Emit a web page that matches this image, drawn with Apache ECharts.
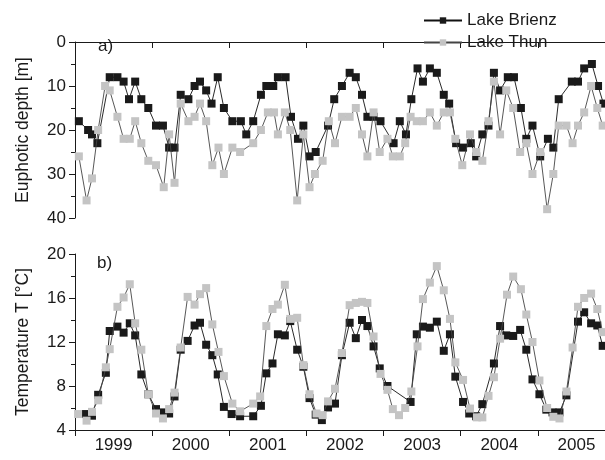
<!DOCTYPE html>
<html>
<head>
<meta charset="utf-8">
<script src="https://cdn.jsdelivr.net/npm/echarts@6/dist/echarts.min.js"></script>
<style>
  html, body { margin: 0; background: #fff; }
  #main { width: 605px; height: 460px; }
</style>
</head>
<body>
<div id="main"></div>
<script>
var years = [1999, 2000, 2001, 2002, 2003, 2004, 2005]
var depthTicks = [0, 10, 20, 30, 40]
var tempTicks = [4, 8, 12, 16, 20]

// a) euphotic depth [m]
var depthBrienzT = [1999.05, 1999.17, 1999.22, 1999.29, 1999.45, 1999.55, 1999.63, 1999.70, 1999.78, 1999.86, 1999.95,
  2000.05, 2000.14, 2000.22, 2000.29, 2000.37, 2000.47, 2000.55, 2000.62, 2000.70, 2000.77, 2000.85, 2000.93,
  2001.04, 2001.15, 2001.22, 2001.31, 2001.41, 2001.48, 2001.57, 2001.63, 2001.73, 2001.80, 2001.89, 2001.96,
  2002.04, 2002.12, 2002.28, 2002.36, 2002.46, 2002.56, 2002.64, 2002.72, 2002.79, 2002.87, 2002.96,
  2003.13, 2003.21, 2003.29, 2003.36, 2003.44, 2003.51, 2003.60, 2003.69, 2003.78, 2003.85, 2003.94,
  2004.03, 2004.13, 2004.20, 2004.28, 2004.36, 2004.43, 2004.51, 2004.61, 2004.69, 2004.78, 2004.85, 2004.93,
  2005.03, 2005.13, 2005.20, 2005.27, 2005.44, 2005.52, 2005.60, 2005.70, 2005.78, 2005.85]
var depthBrienz = [18, 20, 21, 23, 8, 8, 9, 13, 9, 13, 15,
  19, 19, 24, 24, 12, 13, 10, 9, 11, 14, 8, 15,
  18, 18, 21, 18, 12, 10, 10, 8, 8, 17, 22, 19,
  26, 25, 19, 13, 10, 7, 8, 12, 17, 17, 18,
  23, 18, 21, 13, 6, 9, 6, 7, 12, 14, 23,
  24, 23, 26, 21, 19, 7, 11, 8, 8, 15, 22, 19,
  26, 22, 24, 13, 9, 9, 6, 5, 10, 14]
var depthThunT = [1999.05, 1999.15, 1999.22, 1999.30, 1999.39, 1999.45, 1999.55, 1999.63, 1999.71, 1999.78, 1999.86,
  1999.95, 2000.05, 2000.15, 2000.22, 2000.29, 2000.37, 2000.47, 2000.55, 2000.62, 2000.70,
  2000.78, 2000.86, 2000.93, 2001.04, 2001.14, 2001.31, 2001.41, 2001.50, 2001.58, 2001.63,
  2001.72, 2001.79, 2001.88, 2001.96, 2002.04, 2002.11, 2002.21, 2002.29, 2002.37, 2002.46,
  2002.56, 2002.64, 2002.72, 2002.79, 2002.87, 2002.95, 2003.05, 2003.12, 2003.21, 2003.28,
  2003.35, 2003.43, 2003.51, 2003.60, 2003.69, 2003.78, 2003.86, 2003.93, 2004.02, 2004.12,
  2004.20, 2004.28, 2004.36, 2004.43, 2004.51, 2004.59, 2004.68, 2004.77, 2004.85, 2004.93,
  2005.03, 2005.12, 2005.20, 2005.27, 2005.37, 2005.45, 2005.52, 2005.60, 2005.69, 2005.77,
  2005.84]
var depthThun = [26, 36, 31, 20, 10, 11, 17, 22, 22, 18, 23,
  27, 28, 33, 21, 32, 14, 18, 17, 14, 18,
  28, 24, 30, 24, 25, 23, 20, 16, 16, 21,
  16, 20, 36, 21, 33, 30, 27, 18, 23, 17,
  17, 15, 21, 26, 16, 25, 22, 26, 26, 23,
  17, 18, 18, 16, 19, 16, 16, 22, 28, 21,
  25, 27, 18, 9, 21, 11, 15, 25, 23, 30,
  25, 38, 30, 19, 19, 23, 19, 16, 10, 15,
  19]

// b) temperature [°C]
var tempBrienzT = [1999.14, 1999.22, 1999.30, 1999.40, 1999.45, 1999.55, 1999.63, 1999.71, 1999.78, 1999.86,
  1999.95, 2000.05, 2000.14, 2000.22, 2000.29, 2000.37, 2000.46, 2000.55, 2000.62, 2000.70,
  2000.78, 2000.85, 2000.93, 2001.03, 2001.14, 2001.31, 2001.41, 2001.48, 2001.56, 2001.63,
  2001.72, 2001.79, 2001.88, 2001.96, 2002.04, 2002.12, 2002.20, 2002.28, 2002.37, 2002.46,
  2002.56, 2002.64, 2002.72, 2002.79, 2002.87, 2002.95, 2003.05, 2003.35, 2003.43, 2003.51,
  2003.60, 2003.69, 2003.78, 2003.86, 2003.93, 2004.03, 2004.11, 2004.20, 2004.28, 2004.43,
  2004.51, 2004.59, 2004.68, 2004.77, 2004.85, 2004.93, 2005.02, 2005.11, 2005.19, 2005.28,
  2005.37, 2005.52, 2005.60, 2005.69, 2005.77, 2005.84]
var tempBrienz = [5.45, 5.3, 7.2, 9.2, 13.0, 13.4, 12.85, 13.7, 12.6, 9.05,
  7.25, 5.9, 5.6, 5.5, 7.05, 11.3, 12.1, 13.5, 13.75, 11.75,
  10.8, 9.05, 6.1, 5.45, 5.25, 5.25, 6.2, 9.15, 10.05, 12.7,
  12.6, 13.9, 11.3, 9.75, 6.9, 5.4, 4.9, 6.05, 6.4, 10.8,
  13.75, 12.35, 14.0, 13.45, 11.6, 9.6, 8.0, 6.55, 12.7, 13.4,
  13.3, 13.85, 11.2, 12.7, 8.85, 6.55, 5.5, 5.25, 6.35, 10.05,
  13.45, 12.6, 12.55, 13.1, 11.3, 8.6, 7.25, 5.85, 5.6, 5.6,
  7.15, 13.85, 14.7, 13.7, 13.5, 11.65]
var tempThunT = [1999.04, 1999.15, 1999.22, 1999.30, 1999.40, 1999.45, 1999.55, 1999.63, 1999.71, 1999.78, 1999.86, 1999.95,
  2000.05, 2000.14, 2000.22, 2000.29, 2000.37, 2000.46, 2000.55, 2000.62, 2000.70, 2000.78, 2000.86, 2000.93,
  2001.04, 2001.14, 2001.31, 2001.40, 2001.48, 2001.56, 2001.63, 2001.72, 2001.79, 2001.88, 2001.96,
  2002.04, 2002.13, 2002.21, 2002.28, 2002.37, 2002.46, 2002.56, 2002.64, 2002.72, 2002.79, 2002.87, 2002.96,
  2003.05, 2003.12, 2003.20, 2003.28, 2003.36, 2003.44, 2003.51, 2003.60, 2003.69, 2003.78, 2003.86, 2003.93,
  2004.03, 2004.12, 2004.21, 2004.28, 2004.36, 2004.43, 2004.51, 2004.60, 2004.68, 2004.78, 2004.85, 2004.93,
  2005.02, 2005.12, 2005.20, 2005.28, 2005.37, 2005.45, 2005.52, 2005.60, 2005.69, 2005.77, 2005.84]
var tempThun = [5.45, 4.85, 5.65, 6.7, 9.7, 11.35, 15.2, 16.05, 17.25, 13.7, 11.3, 7.25,
  5.5, 5.05, 5.9, 7.4, 11.5, 16.1, 15.4, 16.35, 16.9, 13.6, 11.1, 8.9,
  6.4, 5.7, 6.4, 7.05, 13.45, 15.0, 15.4, 17.2, 14.1, 14.2, 9.9,
  7.25, 5.5, 5.35, 6.6, 7.75, 11.0, 15.35, 15.55, 15.65, 15.55, 12.5, 9.1,
  7.65, 5.9, 5.35, 6.0, 7.5, 11.6, 15.9, 17.4, 18.9, 16.7, 14.1, 10.15,
  8.55, 5.95, 5.15, 5.15, 7.1, 8.8, 12.3, 16.3, 17.95, 16.8, 14.5, 12.0,
  8.5, 6.0, 5.2, 5.05, 7.5, 11.5, 15.2, 16.0, 16.4, 15.0, 12.9]

function pairs (t, v) {
  return t.map(function (x, i) { return [x, v[i]] })
}

var font = 'Liberation Sans, Arial, sans-serif'
var ink = '#1a1a1a'
var grey = '#c4c4c4'
var xMax = 2005.87

function xAxisFor (gridIndex, labels) {
  return {
    type: 'value', gridIndex: gridIndex, min: 1999, max: xMax,
    axisLine: { lineStyle: { color: ink, width: 1 } },
    axisTick: { show: true, inside: false, length: 6, lineStyle: { color: ink }, customValues: years },
    axisLabel: {
      show: labels, customValues: years.map(function (y) { return y + 0.5 }),
      formatter: function (v) { return String(Math.floor(v)) },
      color: ink, fontSize: 17, fontFamily: font, margin: 7
    },
    splitLine: { show: false }
  }
}

function yAxisFor (gridIndex, name, ticks, inverse) {
  return {
    type: 'value', gridIndex: gridIndex, inverse: inverse,
    min: ticks[0], max: ticks[ticks.length - 1], interval: ticks[1] - ticks[0],
    name: name, nameLocation: 'middle', nameGap: 43,
    nameTextStyle: { color: ink, fontSize: 17.5, fontFamily: font },
    axisLine: { show: true, lineStyle: { color: ink, width: 1 } },
    axisTick: { show: true, length: 6, lineStyle: { color: ink } },
    minorTick: { show: true, splitNumber: 2, length: 4, lineStyle: { color: ink } },
    axisLabel: { color: ink, fontSize: 17, fontFamily: font, margin: 9 },
    splitLine: { show: false }
  }
}

function lake (name, data, xi, fill, lineColor, z) {
  return {
    name: name, type: 'line', xAxisIndex: xi, yAxisIndex: xi, data: data,
    symbol: 'rect', symbolSize: 8, showAllSymbol: true, z: z,
    itemStyle: { color: fill, borderWidth: 0 },
    lineStyle: { color: lineColor, width: 0.9 },
    emphasis: { disabled: true }, animation: false
  }
}

var myChart = echarts.init(document.getElementById('main'), null, { renderer: 'canvas' })
var option = {
  backgroundColor: '#fff',
  animation: false,
  grid: [
    { left: 75, top: 42, width: 530, height: 176 },
    { left: 75, top: 254, width: 530, height: 176 }
  ],
  legend: {
    orient: 'vertical', left: 418, top: 7, itemGap: 5,
    itemWidth: 38, itemHeight: 8,
    textStyle: { color: ink, fontSize: 17, fontFamily: font },
    data: ['Lake Brienz', 'Lake Thun']
  },
  graphic: [
    { type: 'text', left: 98, top: 38, style: { text: 'a)', fill: ink, font: '17px ' + font } },
    { type: 'text', left: 97, top: 255, style: { text: 'b)', fill: ink, font: '17px ' + font } }
  ],
  xAxis: [xAxisFor(0, false), xAxisFor(1, true)],
  yAxis: [
    yAxisFor(0, 'Euphotic depth [m]', depthTicks, true),
    yAxisFor(1, 'Temperature T [°C]', tempTicks, false)
  ],
  series: [
    lake('Lake Brienz', pairs(depthBrienzT, depthBrienz), 0, ink, '#111', 3),
    lake('Lake Thun', pairs(depthThunT, depthThun), 0, grey, '#444', 4),
    lake('Lake Brienz', pairs(tempBrienzT, tempBrienz), 1, ink, '#111', 3),
    lake('Lake Thun', pairs(tempThunT, tempThun), 1, grey, '#444', 4)
  ]
}
myChart.setOption(option)
</script>
</body>
</html>
